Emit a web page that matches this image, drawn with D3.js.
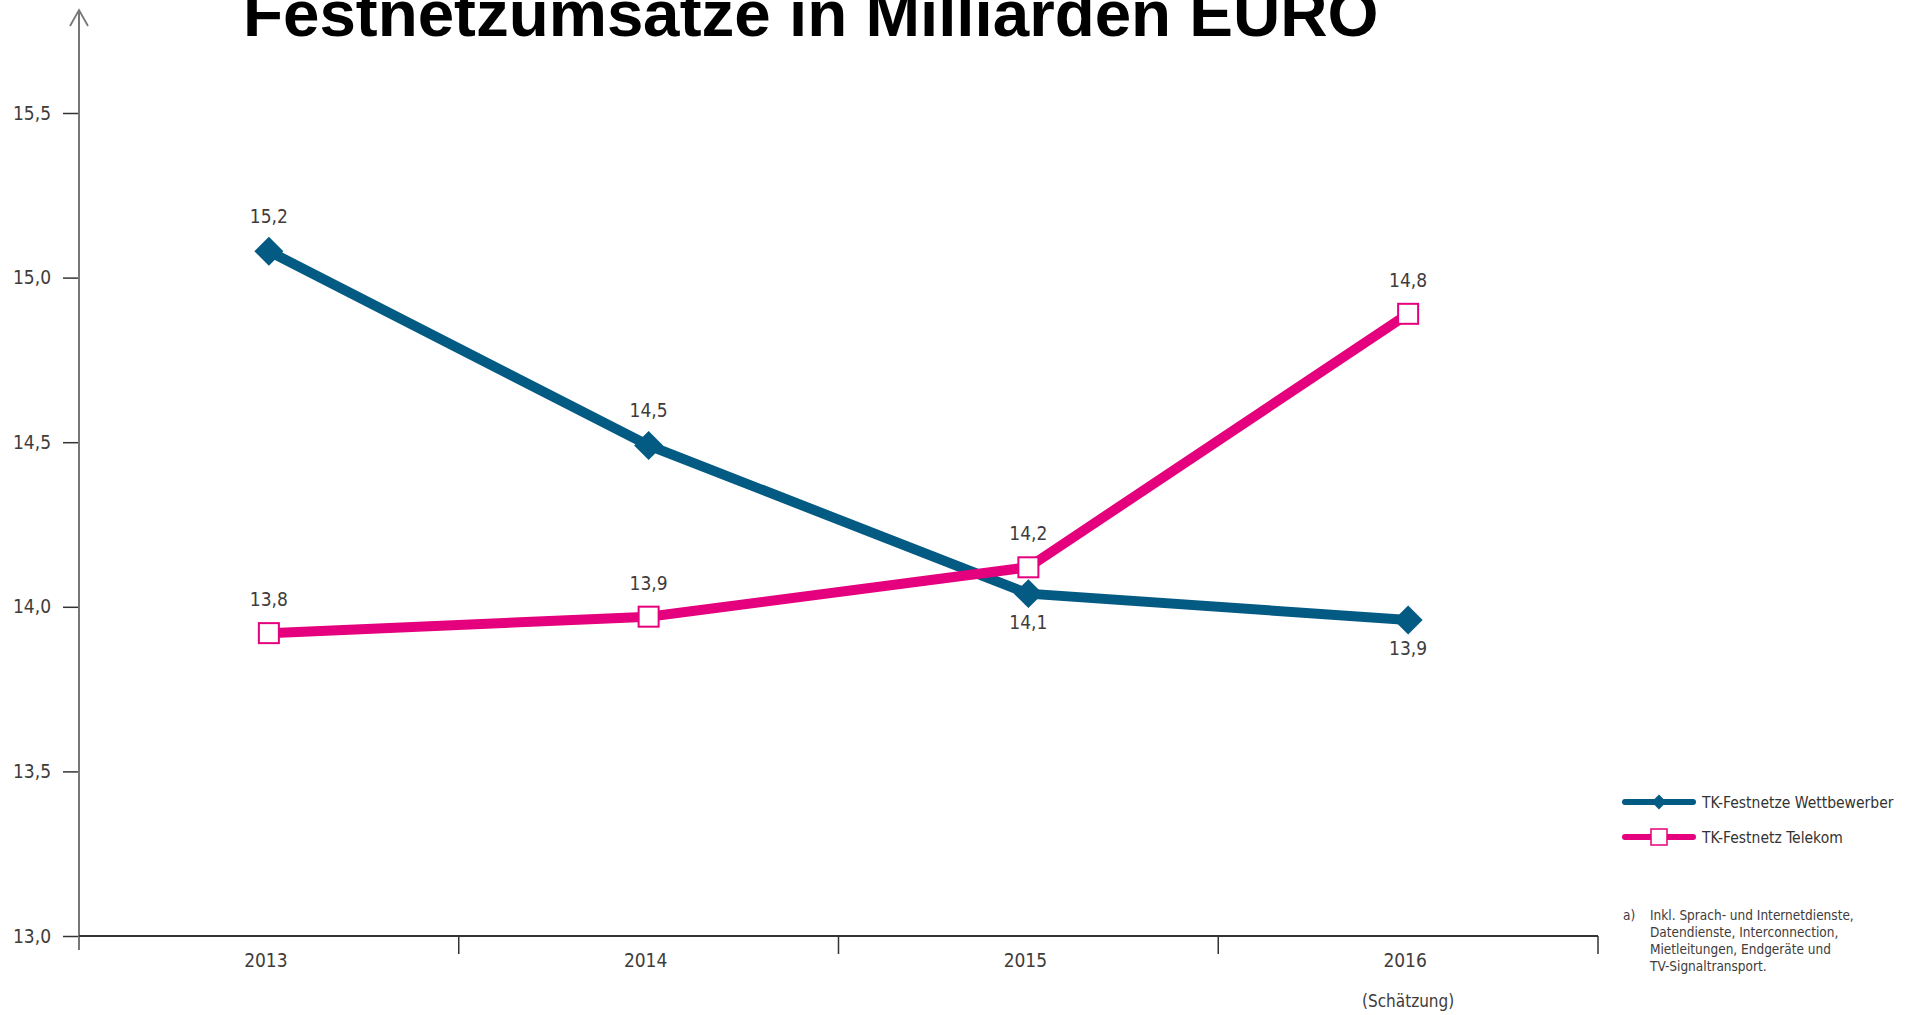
<!DOCTYPE html>
<html>
<head>
<meta charset="utf-8">
<script src="https://cdn.jsdelivr.net/npm/d3@7/dist/d3.min.js"></script>
<style>
  body { margin: 0; background: #fff; }
  text { font-family: "Liberation Sans Narrow", "DejaVu Sans Condensed", "Open Sans", sans-serif; }
</style>
</head>
<body>
<script>
//width and height of svg
var w = 1908;
var h = 1015;

//the data
var years = ["2013", "2014", "2015", "2016"];
var wettbewerber = [15.08, 14.49, 14.04, 13.96];   //plotted position
var wettbewerberLabels = ["15,2", "14,5", "14,1", "13,9"];
var telekom = [13.92, 13.97, 14.12, 14.89];
var telekomLabels = ["13,8", "13,9", "14,2", "14,8"];
var yTicks = [13.0, 13.5, 14.0, 14.5, 15.0, 15.5];
var yTickLabels = ["13,0", "13,5", "14,0", "14,5", "15,0", "15,5"];
var seriesNames = ["TK-Festnetze Wettbewerber", "TK-Festnetz Telekom"];
var footnote = ["Inkl. Sprach- und Internetdienste,", "Datendienste, Interconnection,",
                "Mietleitungen, Endgeräte und", "TV-Signaltransport."];

var blue = "#035a82";
var pink = "#e5007d";
var textColor = "#403c3c";

var svg = d3.select("body")
            .append("svg")
            .attr("width", w)
            .attr("height", h);

//scales
var xScale = d3.scaleBand()
               .domain(years)
               .range([79, 1598])
               .paddingInner(0);

var yScale = d3.scaleLinear()
               .domain([13, 15.5])
               .range([936, 113]);

var cx = function(i) { return xScale(years[i]) + xScale.bandwidth() / 2; };

//title (cut at the top edge as in the original)
svg.append("text")
   .attr("x", 243)
   .attr("y", 36)
   .style("font-family", "'Liberation Sans', Arial, sans-serif")
   .style("font-weight", "bold")
   .style("font-size", "65.5px")
   .attr("fill", "#000")
   .text("Festnetzumsätze in Milliarden EURO");

//y axis
var yAxis = d3.axisLeft(yScale)
              .tickValues(yTicks)
              .tickSize(16)
              .tickPadding(12)
              .tickFormat(function(d, i) { return yTickLabels[i]; });

var gy = svg.append("g")
            .attr("transform", "translate(79,0)")
            .call(yAxis);
gy.select(".domain").remove();
gy.selectAll(".tick line").attr("stroke", "#333").attr("stroke-width", 1.5);
gy.selectAll(".tick text")
  .attr("fill", textColor)
  .style("font-size", "19px");

//vertical axis line with arrow head
svg.append("line")
   .attr("x1", 79).attr("x2", 79)
   .attr("y1", 950).attr("y2", 10)
   .attr("stroke", "#777")
   .attr("stroke-width", 2);
svg.append("path")
   .attr("d", "M70,26 L79,10 L88,26")
   .attr("fill", "none")
   .attr("stroke", "#777")
   .attr("stroke-width", 1.8);

//x axis
var xAxis = d3.axisBottom(xScale).tickSize(0).tickPadding(18);
var gx = svg.append("g")
            .attr("transform", "translate(0," + yScale(13) + ")")
            .call(xAxis);
gx.select(".domain").remove();
gx.selectAll(".tick text")
  .attr("fill", textColor)
  .attr("dx", -3)
  .style("font-size", "19px");

svg.append("line")
   .attr("x1", 79).attr("x2", 1598)
   .attr("y1", yScale(13)).attr("y2", yScale(13))
   .attr("stroke", "#333")
   .attr("stroke-width", 2);

svg.selectAll(".bandtick")
   .data(years)
   .enter()
   .append("line")
   .attr("class", "bandtick")
   .attr("x1", function(d) { return xScale(d) + xScale.bandwidth(); })
   .attr("x2", function(d) { return xScale(d) + xScale.bandwidth(); })
   .attr("y1", yScale(13))
   .attr("y2", yScale(13) + 18)
   .attr("stroke", "#333")
   .attr("stroke-width", 1.5);

svg.append("text")
   .attr("x", cx(3))
   .attr("y", 1007)
   .attr("text-anchor", "middle")
   .attr("fill", textColor)
   .style("font-size", "17px")
   .text("(Schätzung)");

//lines
var line = d3.line()
             .x(function(d, i) { return cx(i); })
             .y(function(d) { return yScale(d); });

svg.append("path")
   .datum(wettbewerber)
   .attr("d", line)
   .attr("fill", "none")
   .attr("stroke", blue)
   .attr("stroke-width", 10);

svg.append("path")
   .datum(telekom)
   .attr("d", line)
   .attr("fill", "none")
   .attr("stroke", pink)
   .attr("stroke-width", 10);

//markers
var diamond = d3.symbol().type(d3.symbolSquare).size(420);
svg.selectAll(".diamond")
   .data(wettbewerber)
   .enter()
   .append("path")
   .attr("class", "diamond")
   .attr("d", diamond)
   .attr("transform", function(d, i) { return "translate(" + cx(i) + "," + yScale(d) + ") rotate(45)"; })
   .attr("fill", blue);

svg.selectAll(".square")
   .data(telekom)
   .enter()
   .append("rect")
   .attr("class", "square")
   .attr("x", function(d, i) { return cx(i) - 10; })
   .attr("y", function(d) { return yScale(d) - 10; })
   .attr("width", 20)
   .attr("height", 20)
   .attr("fill", "#fff")
   .attr("stroke", pink)
   .attr("stroke-width", 2);

//value labels
svg.selectAll(".blabel")
   .data(wettbewerber)
   .enter()
   .append("text")
   .attr("class", "blabel")
   .attr("x", function(d, i) { return cx(i); })
   .attr("y", function(d, i) { return d < telekom[i] ? yScale(d) + 35 : yScale(d) - 28; })
   .attr("text-anchor", "middle")
   .attr("fill", textColor)
   .style("font-size", "19px")
   .text(function(d, i) { return wettbewerberLabels[i]; });

svg.selectAll(".plabel")
   .data(telekom)
   .enter()
   .append("text")
   .attr("class", "plabel")
   .attr("x", function(d, i) { return cx(i); })
   .attr("y", function(d) { return yScale(d) - 27; })
   .attr("text-anchor", "middle")
   .attr("fill", textColor)
   .style("font-size", "19px")
   .text(function(d, i) { return telekomLabels[i]; });

//legend
var legend = svg.selectAll(".legend")
                .data(seriesNames)
                .enter()
                .append("g")
                .attr("class", "legend")
                .attr("transform", function(d, i) { return "translate(1625," + (802 + i * 35) + ")"; });

legend.append("line")
      .attr("x1", 0).attr("x2", 68)
      .attr("y1", 0).attr("y2", 0)
      .attr("stroke", function(d, i) { return i == 0 ? blue : pink; })
      .attr("stroke-width", 6)
      .attr("stroke-linecap", "round");

legend.filter(function(d, i) { return i == 0; })
      .append("path")
      .attr("d", d3.symbol().type(d3.symbolSquare).size(110))
      .attr("transform", "translate(34,0) rotate(45)")
      .attr("fill", blue);

legend.filter(function(d, i) { return i == 1; })
      .append("rect")
      .attr("x", 26).attr("y", -8)
      .attr("width", 16).attr("height", 16)
      .attr("fill", "#fff")
      .attr("stroke", pink)
      .attr("stroke-width", 1.5);

legend.append("text")
      .attr("x", 77)
      .attr("y", 5.5)
      .attr("fill", "#333")
      .style("font-size", "15.5px")
      .text(function(d) { return d; });

//footnote
svg.append("text")
   .attr("x", 1623)
   .attr("y", 920)
   .attr("fill", textColor)
   .style("font-size", "13.5px")
   .text("a)");

svg.selectAll(".foot")
   .data(footnote)
   .enter()
   .append("text")
   .attr("class", "foot")
   .attr("x", 1650)
   .attr("y", function(d, i) { return 920 + i * 17; })
   .attr("fill", textColor)
   .style("font-size", "13.5px")
   .text(function(d) { return d; });
</script>
</body>
</html>
